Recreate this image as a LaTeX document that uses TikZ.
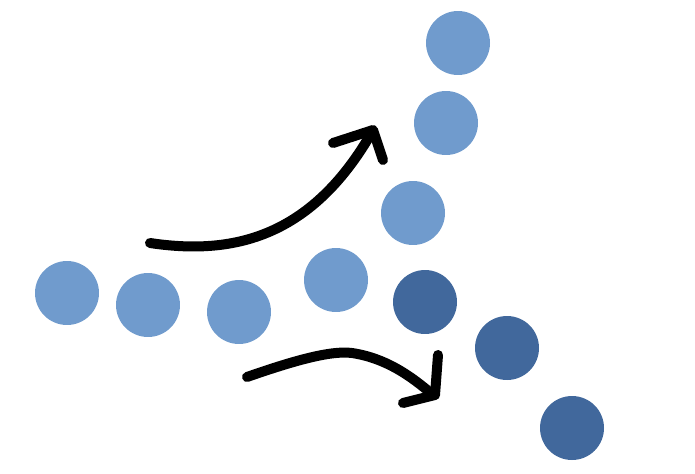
\documentclass[tikz,border=0pt]{standalone}
\usepackage{tikz}
\usetikzlibrary{calc}
\definecolor{lightdot}{RGB}{112,155,205}
\definecolor{darkdot}{RGB}{65,104,156}
\tikzset{
	dot/.style={circle, minimum size=1.28cm, inner sep=0pt, fill=#1},
	stroke/.style={line width=0.2cm, line cap=round, line join=round, color=black}
}

\begin{document}
\begin{tikzpicture}[x=0.02cm, y=-0.02cm]
		%%%%% START %%%%%
		
		\useasboundingbox (0, 0) rectangle (695, 473);
		
		\node[dot=lightdot] (a1) at (67, 293) {};
		\node[dot=lightdot] (a2) at (148, 305) {};
		\node[dot=lightdot] (a3) at (239, 312) {};
		\node[dot=lightdot] (a4) at (336, 280) {};
		\node[dot=lightdot] (a5) at (413, 213) {};
		\node[dot=lightdot] (a6) at (446, 123) {};
		\node[dot=lightdot] (a7) at (458, 43) {};
		
		\node[dot=darkdot] (b1) at (425, 302) {};
		\node[dot=darkdot] (b2) at (507, 348) {};
		\node[dot=darkdot] (b3) at (572, 428) {};
		
		\draw[stroke] (150, 243) .. controls (230, 255) and (310, 240) .. (372, 132);
		\draw[stroke] (333, 143) -- (373, 130) -- (383, 160);
		
		\draw[stroke] (247, 377) .. controls (290, 362) and (330, 350) .. (352, 353) .. controls (385, 358) and (410, 375) .. (433, 395);
		\draw[stroke] (438, 355) -- (435, 395) -- (403, 403);
		
		%%%%% END %%%%%
	\end{tikzpicture}
\end{document}
